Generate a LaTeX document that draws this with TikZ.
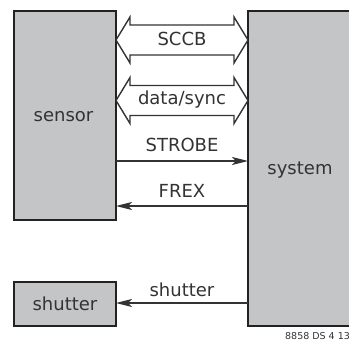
\documentclass[tikz,border=0pt]{standalone}
\usepackage{fontspec}
\setmainfont{DejaVu Sans}
\usetikzlibrary{arrows.meta,calc}
\definecolor{boxfill}{HTML}{C4C5C7}
\definecolor{edge}{HTML}{222222}
\definecolor{ink}{HTML}{333333}
\tikzset{
  blockbox/.style={draw=edge, line width=2.6pt, fill=boxfill, inner sep=0pt},
  lbl/.style={text=ink, font=\fontsize{18}{20}\selectfont, inner sep=0pt},
  sig/.style={draw=ink, line width=1.3pt, -{Stealth[length=16pt,width=8pt,inset=4pt]}},
  dbl/.style={draw=ink, line width=1.4pt, fill=white, line join=miter},
}
\newcommand\dblarrow[3]{%
  \coordinate (L#2) at (sensorE |- 0,#1);
  \coordinate (R#2) at (systemW |- 0,#1);
  \draw[dbl] (L#2) -- ++(14,-23) -- ++(0,8) -- ($(R#2)+(-14,-15)$) -- ++(0,-8)
    -- (R#2) -- ++(-14,23) -- ++(0,-8) -- ($(L#2)+(14,15)$) -- ++(0,8) -- cycle;
  \node[lbl] (#2) at ($(L#2)!0.5!(R#2)+(0,-1)$) {#3};
}
\begin{document}
\begin{tikzpicture}[x=1pt,y=-1pt]
\useasboundingbox (0,0) rectangle (349,346);
% boxes
\path[blockbox] (14,11) rectangle (116,220);
\node[lbl] (sensor) at (63.5,117) {sensor};
\coordinate (sensorE) at (116,115);
\path[blockbox] (248,11) rectangle (370,326);
\node[lbl] (system) at (300,170) {system};
\coordinate (systemW) at (248,170);
\path[blockbox] (14,282) rectangle (116,326);
\node[lbl] (shutter) at (65,304) {shutter};
\coordinate (shutterE) at (116,303);
% double arrows
\dblarrow{40}{sccb}{SCCB}
\dblarrow{100.5}{dsync}{data/sync}
% signals
\coordinate (strobeL) at (sensorE |- 0,161);
\coordinate (strobeR) at (systemW |- 0,161);
\draw[sig] (strobeL) -- (strobeR);
\node[lbl] (strobe) at (182,145) {STROBE};
\coordinate (frexR) at (systemW |- 0,206);
\coordinate (frexL) at (sensorE |- 0,206);
\draw[sig] (frexR) -- (frexL);
\node[lbl] (frex) at (182,191) {FREX};
\coordinate (shutR) at (systemW |- shutterE);
\draw[sig] (shutR) -- (shutterE);
\node[lbl] (shutlbl) at (182,290) {shutter};
\node[text=ink, font=\fontsize{9.5}{11}\selectfont, anchor=west, inner sep=0pt] (code) at (285,336) {8858 DS 4 13};
\end{tikzpicture}
\end{document}
